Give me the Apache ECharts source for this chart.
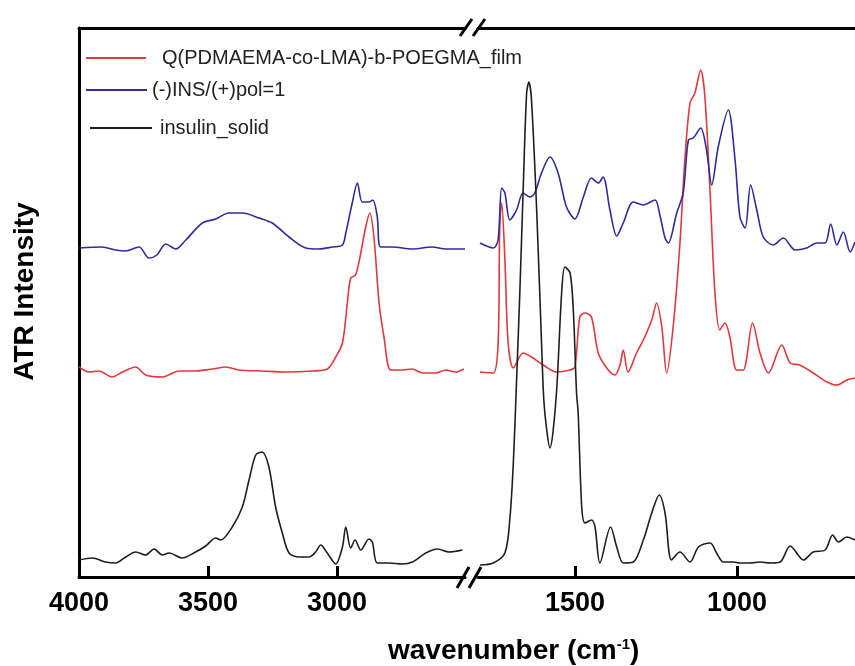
<!DOCTYPE html>
<html>
<head>
<meta charset="utf-8">
<script src="https://cdn.jsdelivr.net/npm/echarts@6/dist/echarts.min.js"></script>
<style>
  html, body { margin: 0; padding: 0; background: #fff; }
  #chart { width: 855px; height: 666px; }
</style>
</head>
<body>
<div id="chart"></div>
<script>
// series names
const nameRed = 'Q(PDMAEMA-co-LMA)-b-POEGMA_film'
const nameBlue = '(-)INS/(+)pol=1'
const nameBlack = 'insulin_solid'

// tick values of the broken wavenumber axis
const ticksLeft = [4000, 3500, 3000]
const ticksRight = [1500, 1000]

// high wavenumber part (4000 - 2500 cm-1)
const blueLeftWn = [4000, 3911, 3858, 3819, 3767, 3729, 3698, 3664, 3625, 3586, 3522, 3470, 3419, 3367, 3302, 3251, 3186, 3121, 3070, 3018, 2979, 2966, 2941, 2921, 2902, 2876, 2861, 2844, 2831, 2786, 2708, 2631, 2579, 2504]
const blueLeftI = [329, 330, 327, 326, 330, 319, 322, 333, 328, 337, 354, 358, 364, 364, 359, 354, 340, 329, 328, 330, 332, 344, 374, 394, 375, 375, 377, 360, 330, 330, 328, 330, 328, 328]

const redLeftWn = [4000, 3961, 3923, 3871, 3832, 3780, 3742, 3677, 3612, 3548, 3483, 3431, 3380, 3290, 3199, 3096, 3038, 3005, 2979, 2960, 2947, 2928, 2908, 2889, 2873, 2857, 2837, 2818, 2792, 2753, 2708, 2669, 2617, 2579, 2540, 2508]
const redLeftI = [210, 205, 206, 200, 205, 210, 202, 200, 206, 206, 208, 210, 207, 206, 205, 206, 208, 220, 234, 274, 299, 302, 324, 350, 364, 340, 274, 240, 207, 207, 208, 204, 204, 207, 205, 208]

const blackLeftWn = [4000, 3948, 3897, 3858, 3819, 3780, 3742, 3709, 3677, 3651, 3600, 3548, 3509, 3470, 3451, 3406, 3367, 3341, 3315, 3290, 3264, 3238, 3212, 3186, 3147, 3109, 3083, 3063, 3038, 3005, 2979, 2966, 2947, 2930, 2908, 2876, 2863, 2844, 2798, 2747, 2708, 2656, 2611, 2566, 2514]
const blackLeftI = [17, 19, 15, 14, 20, 25, 22, 28, 22, 24, 19, 25, 31, 39, 37, 50, 70, 97, 122, 125, 110, 70, 44, 24, 20, 20, 25, 32, 24, 13, 30, 50, 29, 37, 27, 38, 35, 14, 14, 13, 15, 24, 28, 25, 27]

// fingerprint part (1800 - 636 cm-1)
const blueRightWn = [1793, 1752, 1737, 1726, 1716, 1701, 1680, 1660, 1639, 1624, 1603, 1577, 1552, 1526, 1500, 1474, 1449, 1428, 1413, 1392, 1371, 1351, 1320, 1289, 1253, 1238, 1222, 1212, 1186, 1166, 1150, 1135, 1112, 1094, 1078, 1058, 1027, 1006, 991, 975, 958, 939, 919, 888, 857, 821, 785, 754, 728, 711, 692, 672, 651, 636]
const blueRightI = [334, 329, 337, 389, 384, 357, 367, 384, 380, 384, 404, 420, 404, 370, 358, 380, 399, 394, 400, 367, 341, 354, 375, 372, 377, 362, 339, 334, 364, 384, 437, 439, 449, 427, 392, 430, 467, 417, 360, 349, 392, 367, 340, 332, 339, 327, 329, 334, 334, 353, 332, 345, 325, 335]

const redRightWn = [1793, 1752, 1737, 1732, 1726, 1716, 1706, 1690, 1660, 1634, 1598, 1557, 1515, 1500, 1485, 1469, 1449, 1428, 1402, 1377, 1361, 1351, 1336, 1310, 1289, 1263, 1248, 1232, 1217, 1197, 1176, 1161, 1145, 1130, 1112, 1099, 1083, 1068, 1053, 1037, 1022, 1001, 981, 952, 929, 903, 862, 836, 806, 765, 723, 692, 661, 636]
const redRightI = [205, 204, 234, 350, 374, 317, 234, 209, 224, 220, 212, 205, 207, 210, 260, 264, 260, 224, 209, 202, 212, 227, 205, 224, 237, 257, 274, 250, 204, 250, 334, 417, 474, 484, 507, 480, 384, 284, 247, 254, 240, 207, 207, 254, 224, 204, 232, 214, 212, 204, 195, 192, 197, 199]

const blackRightWn = [1793, 1752, 1716, 1701, 1690, 1680, 1670, 1660, 1649, 1642, 1634, 1618, 1603, 1596, 1587, 1577, 1567, 1555, 1541, 1531, 1515, 1505, 1495, 1490, 1479, 1469, 1449, 1438, 1423, 1390, 1371, 1351, 1320, 1289, 1263, 1240, 1222, 1202, 1176, 1145, 1119, 1083, 1063, 1042, 1011, 991, 960, 929, 898, 867, 836, 795, 765, 728, 705, 687, 661, 636]
const blackRightI = [12, 14, 24, 57, 114, 197, 284, 384, 484, 495, 477, 367, 234, 177, 147, 129, 147, 194, 284, 310, 304, 267, 184, 164, 70, 54, 57, 50, 14, 50, 30, 14, 15, 37, 64, 82, 64, 17, 25, 15, 30, 34, 24, 15, 15, 14, 14, 15, 14, 15, 31, 17, 25, 27, 42, 35, 40, 37]

const zip = (xs, ys) => xs.map((x, i) => [x, ys[i]])

const font = 'Liberation Sans, Arial, sans-serif'
const red = '#e2383c'
const blue = '#2c2c9c'
const black = '#1e1e1e'

// one x axis for each side of the break
function bottomAxis (grid, min, max, ticks, labels) {
  return {
    gridIndex: grid,
    type: 'value',
    inverse: true,
    min: min,
    max: max,
    axisLine: { lineStyle: { color: '#000', width: 3 } },
    axisTick: { inside: true, length: 11, lineStyle: { color: '#000', width: 3 }, customValues: ticks },
    axisLabel: {
      customValues: labels,
      formatter: v => String(v),
      fontSize: 27,
      fontWeight: 'bold',
      color: '#000',
      fontFamily: font,
      margin: 13
    },
    splitLine: { show: false }
  }
}
function topAxis (grid, min, max) {
  return {
    gridIndex: grid,
    type: 'value',
    position: 'top',
    inverse: true,
    min: min,
    max: max,
    axisLine: { lineStyle: { color: '#000', width: 3 } },
    axisTick: { show: false },
    axisLabel: { show: false },
    splitLine: { show: false }
  }
}
function line (name, color, xi, data) {
  return {
    name: name,
    type: 'line',
    xAxisIndex: xi,
    yAxisIndex: xi,
    showSymbol: false,
    symbol: 'none',
    smooth: 0.3,
    data: data,
    lineStyle: { color: color, width: 1.6 },
    itemStyle: { color: color }
  }
}
function legendFor (name, left, top, width, padLeft) {
  return {
    data: [name],
    left: left,
    top: top,
    padding: 0,
    icon: 'rect',
    itemWidth: width,
    itemHeight: 2,
    textStyle: { fontSize: 20, lineHeight: 24, color: '#222', fontFamily: font, padding: [0, 0, 0, padLeft] }
  }
}

const leftMin = 2504, leftMax = 4000
const rightMin = 636, rightMax = 1799

const option = {
  animation: false,
  backgroundColor: '#fff',
  grid: [
    { left: 79, top: 28, width: 386, height: 549 },
    { left: 478, top: 28, width: 377, height: 549 }
  ],
  xAxis: [
    bottomAxis(0, leftMin, leftMax, [3500, 3000], ticksLeft),
    bottomAxis(1, rightMin, rightMax, ticksRight, ticksRight),
    topAxis(0, leftMin, leftMax),
    topAxis(1, rightMin, rightMax)
  ],
  yAxis: [
    {
      gridIndex: 0,
      type: 'value',
      min: 0,
      max: 549,
      axisLine: { show: true, lineStyle: { color: '#000', width: 3 } },
      axisTick: { show: false },
      axisLabel: { show: false },
      splitLine: { show: false },
      name: 'ATR Intensity',
      nameLocation: 'middle',
      nameGap: 40,
      nameTextStyle: { fontSize: 28, fontWeight: 'bold', color: '#000', fontFamily: font, padding: [0, 0, 0, 22] }
    },
    { gridIndex: 1, type: 'value', min: 0, max: 549, show: false }
  ],
  legend: [
    legendFor(nameRed, 86, 46, 60, 11),
    legendFor(nameBlue, 86, 78, 61, 0),
    legendFor(nameBlack, 90, 116, 62, 3)
  ],
  title: {
    text: '{a|wavenumber (cm}{s|-1}{a|)}',
    left: 388,
    top: 637,
    padding: 0,
    textStyle: {
      rich: {
        a: { fontSize: 28, fontWeight: 'bold', color: '#000', fontFamily: font },
        s: { fontSize: 15, fontWeight: 'bold', color: '#000', fontFamily: font, verticalAlign: 'top' }
      }
    }
  },
  series: [
    line(nameRed, red, 0, zip(redLeftWn, redLeftI)),
    line(nameRed, red, 1, zip(redRightWn, redRightI)),
    line(nameBlue, blue, 0, zip(blueLeftWn, blueLeftI)),
    line(nameBlue, blue, 1, zip(blueRightWn, blueRightI)),
    line(nameBlack, black, 0, zip(blackLeftWn, blackLeftI)),
    line(nameBlack, black, 1, zip(blackRightWn, blackRightI))
  ],
  // axis break marks
  graphic: [
    { type: 'line', shape: { x1: 460, y1: 36, x2: 472, y2: 19 }, style: { stroke: '#000', lineWidth: 3 } },
    { type: 'line', shape: { x1: 473, y1: 36, x2: 485, y2: 19 }, style: { stroke: '#000', lineWidth: 3 } },
    { type: 'line', shape: { x1: 457, y1: 588, x2: 469, y2: 567 }, style: { stroke: '#000', lineWidth: 3 } },
    { type: 'line', shape: { x1: 469, y1: 588, x2: 481, y2: 567 }, style: { stroke: '#000', lineWidth: 3 } }
  ]
}

const chart = echarts.init(document.getElementById('chart'))
chart.setOption(option)
</script>
</body>
</html>
